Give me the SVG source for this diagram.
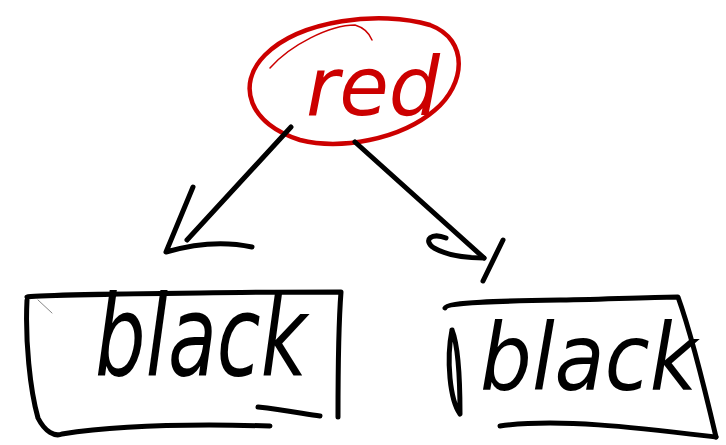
<svg xmlns="http://www.w3.org/2000/svg" width="726" height="445" viewBox="0 0 726 445">
  <style>
    .ink { fill: none; stroke: #000; stroke-width: 5; stroke-linecap: round; stroke-linejoin: round; }
    .thin { fill: none; stroke: #000; stroke-width: 0.8; stroke-linecap: round; opacity: 0.6; }
    .redink { fill: none; stroke: #cc0000; stroke-width: 4.5; stroke-linecap: round; }
    .label { font-family: "DejaVu Sans", "Liberation Sans", sans-serif; font-style: italic; font-weight: normal; }
  </style>
  <rect width="726" height="445" fill="#fff"/>

  <!-- root node -->
  <g id="node-red">
    <path class="redink" d="M 300 140 C 250 125 235 85 265 55 C 300 20 380 10 430 25 C 470 40 465 85 435 110 C 400 140 340 150 300 140 Z"/>
    <path class="redink" style="stroke-width:1.5" d="M 270 68 C 290 45 330 25 355 25 C 365 28 370 35 372 40"/>
    <text class="label" x="306" y="115" font-size="82" fill="#cc0000" textLength="134" lengthAdjust="spacingAndGlyphs">red</text>
  </g>

  <!-- left child -->
  <g id="node-black-left">
    <path class="ink" d="M 27 297 C 30 296 100 294 200 293 C 260 292 320 292 341 292 C 338 330 338 380 338 417"/>
    <path class="ink" d="M 27 300 C 25 340 30 390 38 418 C 45 432 55 437 62 434 C 120 425 200 424 270 426"/>
    <path class="ink" d="M 258 407 C 285 410 305 414 320 416"/>
    <path class="thin" d="M 38 300 L 52 313"/>
    <text class="label" x="95" y="375" font-size="112" fill="#000" textLength="212" lengthAdjust="spacingAndGlyphs">black</text>
  </g>

  <!-- right child -->
  <g id="node-black-right">
    <path class="ink" d="M 445 308 C 447 302 500 301 560 300 C 610 299 660 297 678 297 C 690 330 705 390 716 437"/>
    <path class="ink" d="M 500 426 C 560 418 640 428 716 437"/>
    <path class="ink" d="M 452 330 C 446 360 450 400 460 414 C 460 380 458 345 452 330"/>
    <text class="label" x="480" y="390" font-size="92" fill="#000" textLength="217" lengthAdjust="spacingAndGlyphs">black</text>
  </g>

  <!-- connectors -->
  <g id="connectors">
    <path class="ink" d="M 291 127 L 187 240"/>
    <path class="ink" d="M 193 187 L 166 252 C 190 245 220 240 252 247"/>
    <path class="ink" d="M 355 142 L 484 258"/>
    <path class="ink" d="M 446 238 C 432 232 422 240 434 248 C 448 256 468 258 484 258"/>
    <path class="ink" d="M 503 240 L 483 281"/>
  </g>
</svg>
